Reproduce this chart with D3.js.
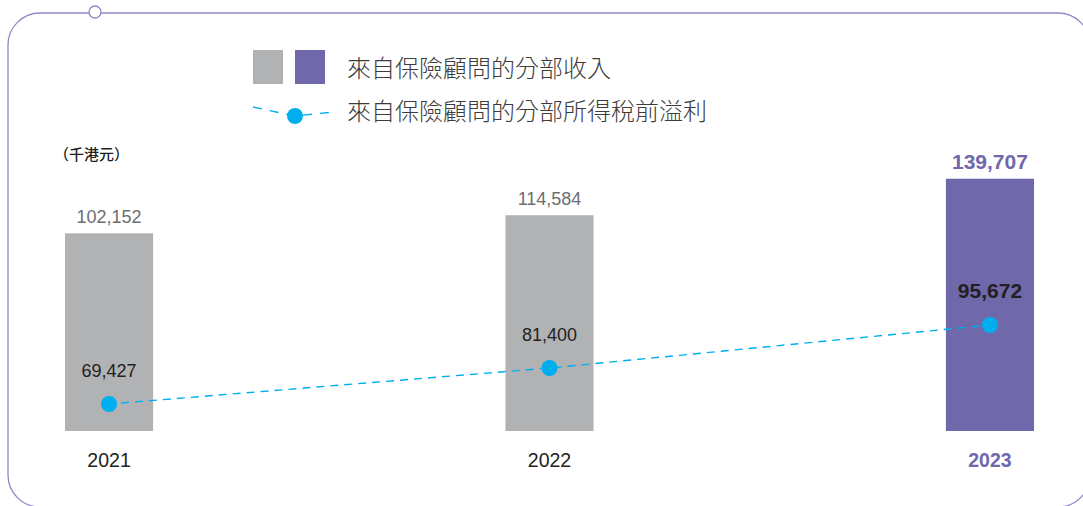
<!DOCTYPE html>
<html>
<head>
<meta charset="utf-8">
<script src="https://cdn.jsdelivr.net/npm/d3@7"></script>
<style>
  html, body { margin: 0; padding: 0; background: #fff; }
  svg { display: block; }
</style>
</head>
<body>
<svg id="chart" width="1083" height="506"></svg>
<script>
// Segment data (HK$ thousands)
const years = ["2021", "2022", "2023"];
const revenue = [102152, 114584, 139707];
const profit = [69427, 81400, 95672];
const legendLabels = ["來自保險顧問的分部收入", "來自保險顧問的分部所得稅前溢利"];
const unitLabel = "（千港元）";

const W = 1083, H = 506;
const gray = "#b1b2b4", purple = "#6f68ab", blue = "#00aeef", frameColor = "#8f88c8";
const numFont = "'Liberation Sans', Arial, sans-serif";
const cjkFont = "'Noto Sans CJK TC', 'Noto Sans CJK SC', sans-serif";

const svg = d3.select("#chart");

// Rounded frame with small ring on the top edge
svg.append("rect")
  .attr("x", 8).attr("y", 13).attr("width", 1082).attr("height", 494)
  .attr("rx", 32).attr("ry", 32)
  .attr("fill", "none").attr("stroke", frameColor).attr("stroke-width", 1.3);
svg.append("circle")
  .attr("cx", 95).attr("cy", 12).attr("r", 6)
  .attr("fill", "#fff").attr("stroke", frameColor).attr("stroke-width", 1.3);

const baseline = 431;
const x = d3.scaleBand().domain(years).range([65, 1034]).paddingInner(0.8).paddingOuter(0);
// Bar scale: compressed value axis (bars share a common origin below zero)
const yBar = d3.scaleLinear().domain([-33930, 140000]).range([baseline, 178.3]);
const yLine = d3.scaleLinear().domain([60000, 100000]).range([432.4, 312]);

const cx = d => x(d) + x.bandwidth() / 2;
const isLast = i => i === years.length - 1;

// Bars
svg.append("g").selectAll("rect").data(years).join("rect")
  .attr("x", d => x(d))
  .attr("width", x.bandwidth())
  .attr("y", (d, i) => yBar(revenue[i]))
  .attr("height", (d, i) => baseline - yBar(revenue[i]))
  .attr("fill", (d, i) => isLast(i) ? purple : gray);

// Bar value labels
svg.append("g").selectAll("text").data(years).join("text")
  .attr("x", d => cx(d))
  .attr("y", (d, i) => yBar(revenue[i]) - 10)
  .attr("text-anchor", "middle")
  .attr("font-family", numFont)
  .attr("font-size", (d, i) => isLast(i) ? 21 : 18)
  .attr("font-weight", (d, i) => isLast(i) ? "bold" : "normal")
  .attr("fill", (d, i) => isLast(i) ? purple : "#6d6e71")
  .text((d, i) => d3.format(",")(revenue[i]));

// Profit line
const line = d3.line().x(d => cx(d)).y((d, i) => yLine(profit[i]));
svg.append("path")
  .datum(years)
  .attr("d", line)
  .attr("fill", "none")
  .attr("stroke", blue)
  .attr("stroke-width", 1.4)
  .attr("stroke-dasharray", "8,6")
  .attr("stroke-dashoffset", -12);

svg.append("g").selectAll("circle").data(years).join("circle")
  .attr("cx", d => cx(d))
  .attr("cy", (d, i) => yLine(profit[i]))
  .attr("r", 8)
  .attr("fill", blue);

// Profit value labels
svg.append("g").selectAll("text").data(years).join("text")
  .attr("x", d => cx(d))
  .attr("y", (d, i) => yLine(profit[i]) - 27)
  .attr("text-anchor", "middle")
  .attr("font-family", numFont)
  .attr("font-size", (d, i) => isLast(i) ? 21 : 18)
  .attr("font-weight", (d, i) => isLast(i) ? "bold" : "normal")
  .attr("fill", "#231f20")
  .text((d, i) => d3.format(",")(profit[i]));

// Year labels
svg.append("g").selectAll("text").data(years).join("text")
  .attr("x", d => cx(d))
  .attr("y", 467)
  .attr("text-anchor", "middle")
  .attr("font-family", numFont)
  .attr("font-size", 19.5)
  .attr("font-weight", (d, i) => isLast(i) ? "bold" : "normal")
  .attr("fill", (d, i) => isLast(i) ? purple : "#231f20")
  .text(d => d);

// Unit label
svg.append("text")
  .attr("x", 54).attr("y", 160)
  .attr("font-family", cjkFont)
  .attr("font-size", 15)
  .attr("font-weight", 500)
  .attr("fill", "#231f20")
  .text(unitLabel);

// Legend
const lg = svg.append("g");
lg.append("rect").attr("x", 253).attr("y", 50).attr("width", 30).attr("height", 34).attr("fill", gray);
lg.append("rect").attr("x", 295).attr("y", 50).attr("width", 30).attr("height", 34).attr("fill", purple);
lg.append("path")
  .attr("d", "M253,107 L295,116 L333,112")
  .attr("fill", "none").attr("stroke", blue).attr("stroke-width", 1.4)
  .attr("stroke-dasharray", "9,8");
lg.append("circle").attr("cx", 295).attr("cy", 116).attr("r", 8).attr("fill", blue);
lg.selectAll("text.lbl").data(legendLabels).join("text")
  .attr("class", "lbl")
  .attr("x", 347)
  .attr("y", (d, i) => 77 + i * 43)
  .attr("font-family", cjkFont)
  .attr("font-size", 24)
  .attr("font-weight", 300)
  .attr("fill", "#3c3c3c")
  .text(d => d);
</script>
</body>
</html>
